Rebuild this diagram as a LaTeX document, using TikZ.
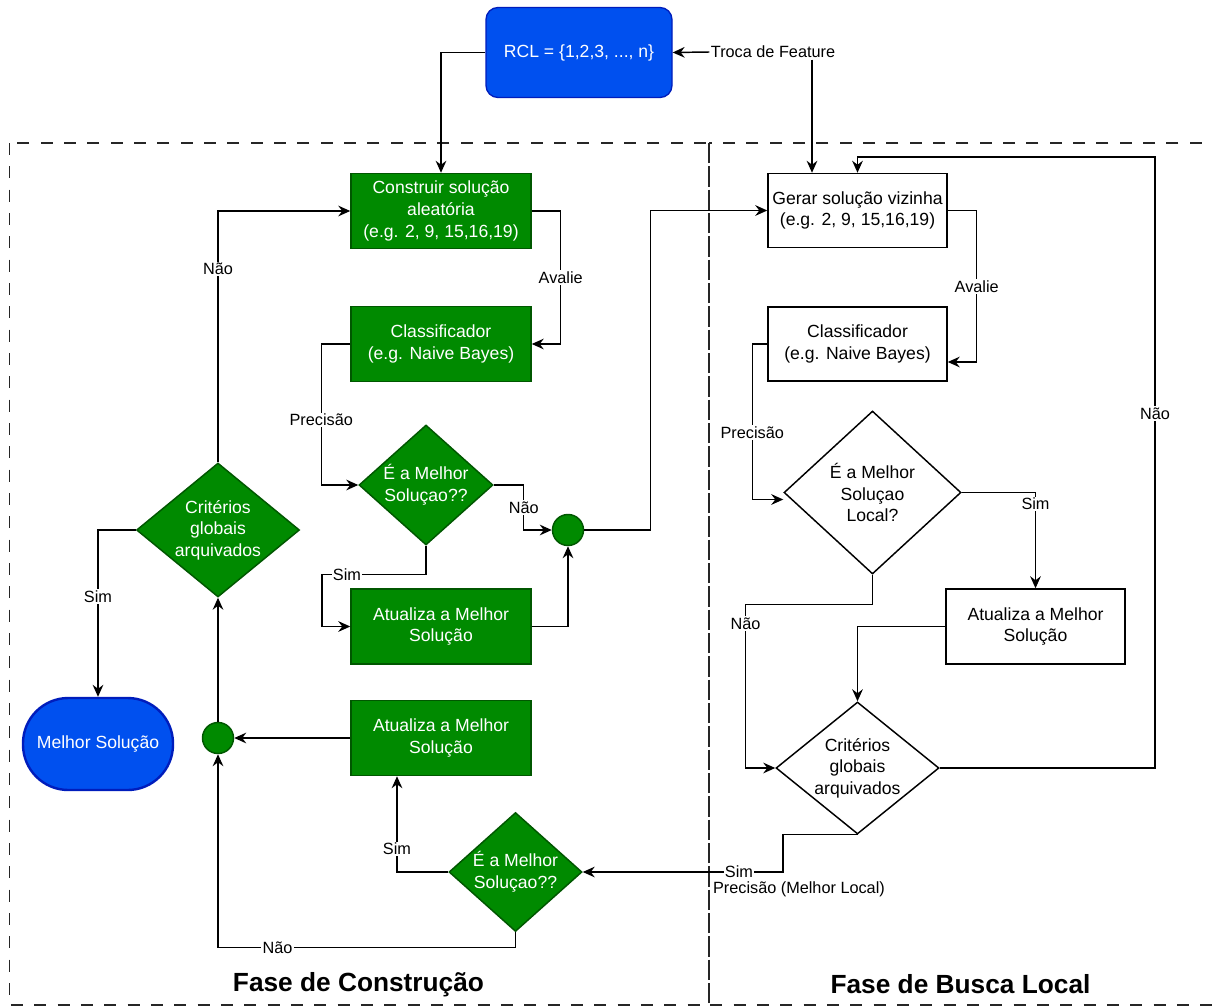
\documentclass[tikz,border=0pt]{standalone}
\usepackage{fontspec}
\setmainfont{Liberation Sans}
\usetikzlibrary{arrows.meta,shapes.geometric,calc}
\definecolor{gfill}{HTML}{008A00}
\definecolor{gdraw}{HTML}{005700}
\definecolor{bfill}{HTML}{0050EF}
\definecolor{bdraw}{HTML}{001DBC}
\begin{document}
\begin{tikzpicture}[x=0.75pt,y=-0.75pt,
  nfont/.style={font=\fontsize{13.2}{16.2}\selectfont},
  lab/.style={font=\fontsize{12.2}{14}\selectfont, fill=white, inner sep=1pt},
  conn/.style={line width=1.1pt, -{Stealth[length=9pt,width=8pt,inset=3pt]}},
  box/.style={rectangle, minimum width=135pt, minimum height=56.25pt, inner sep=0pt, align=center, nfont, line width=1.1pt},
  gbox/.style={box, fill=gfill, draw=gdraw, text=white},
  wbox/.style={box, fill=white, draw=black},
  dia/.style={diamond, inner sep=0pt, line width=1.1pt},
  gdia/.style={dia, fill=gfill, draw=gdraw},
  wdia/.style={dia, fill=white, draw=black},
  gtxt/.style={nfont, text=white, align=center},
  wtxt/.style={nfont, text=black, align=center},
  dot/.style={circle, minimum size=23.25pt, inner sep=0pt, fill=gfill, draw=gdraw, line width=1.1pt},
  phase/.style={draw=black!85, line width=1.1pt, dash pattern=on 9pt off 8.5pt},
  title/.style={font=\bfseries\fontsize{19.7}{23}\selectfont}
]
\useasboundingbox (0,0) rectangle (1213,1006);
\fill[white] (0,0) rectangle (1213,1006);

% phase frames
\draw[phase] (9.5,143) rectangle (709,1005);
\draw[phase] (709,143) rectangle (1225,1005);
\node[title] (t1) at (358.5,984.5) {Fase de Construção};
\node[title] (t2) at (960.5,984.5) {Fase de Busca Local};

% top
\node[rectangle, rounded corners=9pt, minimum width=139.5pt, minimum height=67.5pt, inner sep=0pt,
      fill=bfill, draw=bdraw, line width=1pt, text=white, nfont] (rcl) at (579,52.5) {RCL = \{1,2,3, ..., n\}};
\node[font=\fontsize{12.2}{14}\selectfont, inner sep=1pt] (troca) at (773,52) {Troca de Feature};

% construction phase
\node[gbox] (cons) at (441,211) {Construir solução\\aleatória\\(e.g. 2, 9, 15,16,19)};
\node[gbox] (cls1) at (441,344) {Classificador\\(e.g. Naive Bayes)};
\node[gdia, minimum width=100.5pt, minimum height=90pt,
      label={[gtxt]center:{É a Melhor\\Soluçao??}}] (d1) at (426,485) {};
\node[dot] (c1) at (568,530) {};
\node[gbox] (at1) at (441,626.5) {Atualiza a Melhor\\Solução};
\node[gbox] (at2) at (441,738) {Atualiza a Melhor\\Solução};
\node[dot] (c2) at (218,738) {};
\node[gdia, minimum width=122.25pt, minimum height=100.5pt,
      label={[gtxt]center:{Critérios\\globais\\arquivados}}] (crit1) at (218,530) {};
\node[rectangle, rounded corners=34pt, minimum width=112.5pt, minimum height=69pt, inner sep=0pt,
      fill=bfill, draw=bdraw, line width=1.8pt, text=white, nfont] (melhor) at (98,744) {Melhor Solução};
\node[gdia, minimum width=99.75pt, minimum height=89.25pt,
      label={[gtxt]center:{É a Melhor\\Soluçao??}}] (d2) at (515.5,872) {};

% local search phase
\node[wbox, minimum width=134.25pt, minimum height=55.5pt] (gerar) at (857.5,210.5) {Gerar solução vizinha\\(e.g. 2, 9, 15,16,19)};
\node[wbox, minimum width=134.25pt, minimum height=55.5pt] (cls2) at (857.5,344) {Classificador\\(e.g. Naive Bayes)};
\node[wdia, minimum width=132.75pt, minimum height=122.25pt,
      label={[wtxt]center:{É a Melhor\\Soluçao\\Local?}}] (d3) at (872.5,492.5) {};
\node[wbox, minimum width=134.25pt] (at3) at (1035.5,626.5) {Atualiza a Melhor\\Solução};
\node[wdia, minimum width=122.25pt, minimum height=99pt,
      label={[wtxt]center:{Critérios\\globais\\arquivados}}] (crit2) at (857.5,768) {};
\coordinate (tf) at (812,60);

% connectors: top
\draw[conn] (rcl.west) -| (cons.north);
\draw[conn] (troca.west) -- (rcl.east);
\draw[conn] (troca.south -| tf) -- (tf |- gerar.north);

% connectors: construction
\draw[conn] (crit1.north) |- node[lab, pos=0.385] {Não} (cons.west);
\draw[conn] (cons.east) -- ++(29,0) |- node[lab, pos=0.25] {Avalie} (cls1.east);
\draw[conn] (cls1.west) -- ++(-29,0) |- node[lab, pos=0.27] {Precisão} (d1.west);
\draw[conn] (d1.east) -- ++(30,0) |- node[lab, pos=0.25] {Não} (c1.west);
\draw[conn] (c1.east) -- ++(66.5,0) |- (gerar.west);
\draw[conn] (d1.south) -- ++(0,29) -- node[lab, pos=0.76] {Sim} ++(-104,0) |- (at1.west);
\draw[conn] (at1.east) -| (c1.south);
\draw[conn] (at2.west) -- (c2.east);
\draw[conn] (c2.north) -- (crit1.south);
\draw[conn] (crit1.west) -| node[lab, pos=0.70] {Sim} (melhor.north);
\draw[conn] (d2.west) -| node[lab, pos=0.62] {Sim} ($(at2.south)+(-44,0)$);
\draw[conn] (d2.south) -- ++(0,15) -| node[lab, pos=0.40] {Não} (c2.south);

% connectors: local search
\draw[conn] (gerar.east) -- ++(29,0) |- node[lab, pos=0.25] {Avalie} ($(cls2.east)+(0,18)$);
\draw[conn] (cls2.west) -- ++(-15,0) |- node[lab, pos=0.285] {Precisão} ($(d3.west)+(0,7)$);
\draw[conn] (d3.east) -| node[lab, pos=0.56] {Sim} (at3.north);
\draw[conn] (at3.west) -| (crit2.north);
\draw[conn] (d3.south) -- ++(0,30) -- ++(-127,0) |- node[lab, pos=0.058] {Não} (crit2.west);
\draw[conn] (crit2.east) -| node[lab, pos=0.79] {Não} (1155,157) -| (gerar.north);
\draw[conn] (crit2.south) -- ++(-74.5,0) |- node[lab, pos=0.61] {Sim}
   node[lab, pos=0.5, anchor=north west, xshift=-54pt, yshift=-6pt, fill=none] {Precisão (Melhor Local)} (d2.east);
\end{tikzpicture}
\end{document}
